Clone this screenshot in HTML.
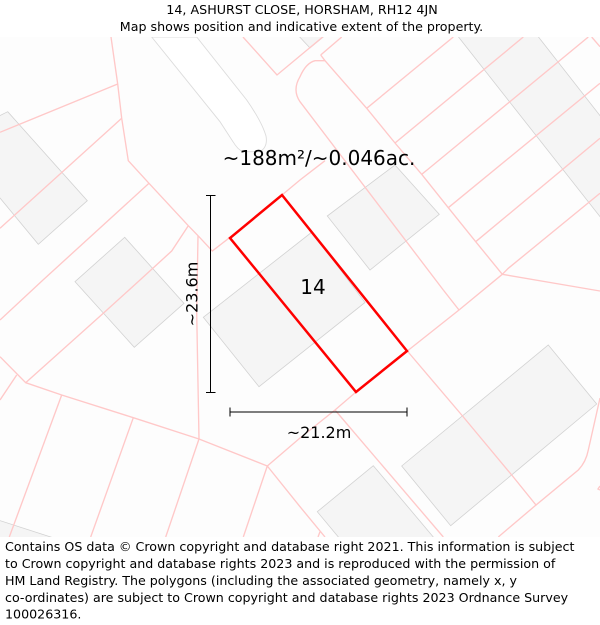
<!DOCTYPE html>
<html>
<head>
<meta charset="utf-8">
<style>
html,body{margin:0;padding:0;background:#fff;width:600px;height:625px;overflow:hidden}
svg{display:block;position:absolute;left:0;top:0}
text{font-family:"DejaVu Sans","Liberation Sans",sans-serif;fill:#000}
.b{fill:#f5f5f5;stroke:#d2d2d2;stroke-width:.8}
.p{fill:none;stroke:#ffc8c8;stroke-width:1.35}
</style>
</head>
<body>
<svg width="600" height="625" viewBox="0 0 600 625">
<text x="302" y="14" font-size="12.7" text-anchor="middle">14, ASHURST CLOSE, HORSHAM, RH12 4JN</text>
<text x="301.5" y="31" font-size="12.65" text-anchor="middle">Map shows position and indicative extent of the property.</text>
<clipPath id="mapclip"><rect x="0" y="37" width="600" height="500"/></clipPath>
<g clip-path="url(#mapclip)">
<rect x="0" y="37" width="600" height="500" fill="#fdfdfd"/>
<path d="M151.7 37L220 121.7L233 141.7Q238 150 243 151.7L260 151.7Q268 147 266 136Q262 122 246.7 100L196.7 37Z" fill="#fff" stroke="#dcdcdc" stroke-width=".9"/>
<g>
<polygon class="b" points="7.7,111.7 87.3,200.7 38.3,244.3 -5,192 -5,118"/>
<polygon class="b" points="124.7,237.3 184,303.3 134.3,347.3 75,281.7"/>
<polygon class="b" points="203.3,317.3 259,386.7 365,302.5 312,232"/>
<polygon class="b" points="395,165 439.3,214.3 370,270 327.3,216"/>
<polygon class="b" points="453,30 533,30 605,122 605,223"/>
<polygon class="b" points="296,33 310,48 328,33"/>
<polygon class="b" points="548.3,345 596.7,404 450.7,525.7 401.7,466"/>
<polygon class="b" points="373.3,465.7 440,545 345,545 317.3,511.7"/>
<polygon class="b" points="-5,519 60,540 -5,540"/>
</g>
<g>
<polyline class="p" points="111,37 117.7,84 121.7,118.3 128.3,160.7 149,183.3 188.3,225.7 198,235.7 212.3,251 230,237.3"/>
<polyline class="p" points="282,195 300,180 325,160.7"/>
<path class="p" d="M443.3 290L300 101.7Q292 90 300 76.7Q306 63 315 60.7L325 60.7L366.7 108.3L395 143L421.7 174.3L448.3 207.7L475.7 241.7L502.3 274.3"/>
<polyline class="p" points="443.3,290 459,310"/>
<polyline class="p" points="320.7,55 325,60.7"/>
<polyline class="p" points="320.7,55 341.7,37"/>
<polyline class="p" points="243,37 277,75 322.7,37"/>
<polyline class="p" points="366.7,108.3 453.3,37"/>
<polyline class="p" points="395,143 523.3,37"/>
<polyline class="p" points="421.7,174.3 428.3,169 588.3,37"/>
<polyline class="p" points="448.3,207.7 600,83.3"/>
<polyline class="p" points="475.7,241.7 600,138.3"/>
<polyline class="p" points="502.3,274.3 508.3,268.3 600,193.3"/>
<polyline class="p" points="591.7,37 600,46.7"/>
<polyline class="p" points="502.3,274.3 600,291"/>
<polyline class="p" points="502.3,274.3 459,310 407.3,351 356,392 335,410 300,438 267.3,466"/>
<path class="p" d="M407.3 351L461.7 415L511.7 475L536 505L578.3 470Q586 462 588.3 450L600 398"/>
<polyline class="p" points="536,505 498.3,537"/>
<polyline class="p" points="600,486 598,489 600,490"/>
<polyline class="p" points="335,410 443.3,537"/>
<polyline class="p" points="267.3,466 300,506.7 325,537"/>
<polyline class="p" points="320,531.7 318,537"/>
<polyline class="p" points="0,356.7 25.7,382.7 103.3,313.3 140,280 171.7,251 188.3,225.7"/>
<polyline class="p" points="25.7,382.7 61.7,395 133.3,417.7 199,439 267.3,466"/>
<polyline class="p" points="16.7,375 0,400"/>
<polyline class="p" points="199,439 196.7,313 198,235.7"/>
<polyline class="p" points="61.7,395 9.3,537"/>
<polyline class="p" points="133.3,417.7 90.7,537"/>
<polyline class="p" points="199,439 165.7,537"/>
<polyline class="p" points="267.3,466 243.3,537"/>
<polyline class="p" points="0,132.3 117.7,84"/>
<polyline class="p" points="0,228.3 121.7,118.3"/>
<polyline class="p" points="149,183.3 43,280 0,320"/>
</g>
<polygon points="282,195 407,351 356,392 230,238" fill="none" stroke="#ff0000" stroke-width="2.5"/>
<g stroke="#000" stroke-width="1" fill="none">
<line x1="210.5" y1="195" x2="210.5" y2="392.5"/>
<line x1="206" y1="195.5" x2="215.5" y2="195.5"/>
<line x1="206" y1="392.5" x2="215.5" y2="392.5"/>
</g>
<g stroke="#000" stroke-width="1" fill="none">
<line x1="230" y1="412" x2="407" y2="412"/>
<line x1="230" y1="407.5" x2="230" y2="416.5"/>
<line x1="407" y1="407.5" x2="407" y2="416.5"/>
</g>
<text x="319" y="165" font-size="20" text-anchor="middle">~188m²/~0.046ac.</text>
<text x="313" y="294" font-size="20" text-anchor="middle">14</text>
<text transform="translate(197.5,294) rotate(-90)" font-size="16" text-anchor="middle">~23.6m</text>
<text x="319" y="438" font-size="16" text-anchor="middle">~21.2m</text>
</g>
<g font-size="12.65">
<text x="5" y="551">Contains OS data © Crown copyright and database right 2021. This information is subject</text>
<text x="5" y="568">to Crown copyright and database rights 2023 and is reproduced with the permission of</text>
<text x="5" y="585">HM Land Registry. The polygons (including the associated geometry, namely x, y</text>
<text x="5" y="602">co-ordinates) are subject to Crown copyright and database rights 2023 Ordnance Survey</text>
<text x="5" y="618.5">100026316.</text>
</g>
</svg>
</body>
</html>
